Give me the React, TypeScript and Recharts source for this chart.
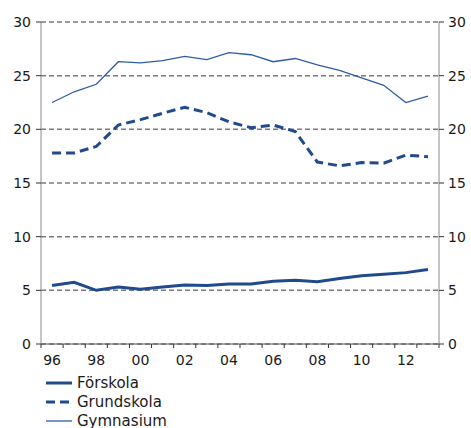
import React from 'react';
import { LineChart, Line, XAxis, YAxis, CartesianGrid } from 'recharts';

const years = [1996, 1997, 1998, 1999, 2000, 2001, 2002, 2003, 2004, 2005, 2006, 2007, 2008, 2009, 2010, 2011, 2012, 2013];
const forskola = [5.45, 5.75, 5.0, 5.3, 5.1, 5.3, 5.5, 5.45, 5.6, 5.6, 5.85, 5.95, 5.8, 6.1, 6.35, 6.5, 6.65, 6.95];
const grundskola = [17.8, 17.8, 18.4, 20.4, 20.9, 21.5, 22.05, 21.55, 20.7, 20.15, 20.4, 19.8, 16.95, 16.6, 16.9, 16.85, 17.6, 17.45];
const gymnasium = [22.5, 23.5, 24.2, 26.3, 26.2, 26.4, 26.8, 26.5, 27.15, 26.95, 26.3, 26.6, 26.0, 25.5, 24.8, 24.1, 22.5, 23.1];

const yTicks = [0, 5, 10, 15, 20, 25, 30];
const labelYears = [1996, 1998, 2000, 2002, 2004, 2006, 2008, 2010, 2012];
const boundaryTicks = [...years.map((y) => y - 0.5), years[years.length - 1] + 0.5];
const xDomain = [boundaryTicks[0], boundaryTicks[boundaryTicks.length - 1]];

const data = years.map((year, i) => ({
    year,
    forskola: forskola[i],
    grundskola: grundskola[i],
    gymnasium: gymnasium[i],
}));

// Förskola sits on the right axis so that axis gets drawn (same 0-30 scale)
const series = [
    { key: 'forskola', name: 'Förskola', color: '#1f4b8e', width: 3, dash: undefined, yAxis: 'right' },
    { key: 'grundskola', name: 'Grundskola', color: '#1f4b8e', width: 3, dash: '9 5', yAxis: 'left' },
    { key: 'gymnasium', name: 'Gymnasium', color: '#2d5ca6', width: 1.3, dash: undefined, yAxis: 'left' },
];

const font = { fontFamily: '"DejaVu Sans", Verdana, sans-serif', fontSize: 14, fill: '#1a1a1a' };
const axisColor = '#8a8a8a';

export default function App() {
    return (
        <div style={{ position: 'absolute', left: 0, top: 0, width: 471, height: 428, background: '#fff' }}>
            <LineChart width={471} height={372} data={data} margin={{ top: 22, right: 0, bottom: 0, left: 0 }}>
                <CartesianGrid yAxisId="left" xAxisId="bounds" vertical={false} stroke="#7a7a7a" strokeWidth={1.5} strokeDasharray="5 3" />
                <XAxis
                    xAxisId="bounds"
                    dataKey="year"
                    type="number"
                    domain={xDomain}
                    ticks={boundaryTicks}
                    interval={0}
                    tickFormatter={() => ''}
                    tickSize={4}
                    height={4}
                    stroke="#555"
                    tickLine={{ stroke: '#333' }}
                />
                <XAxis
                    xAxisId="labels"
                    dataKey="year"
                    type="number"
                    domain={xDomain}
                    ticks={labelYears}
                    interval={0}
                    axisLine={false}
                    tickLine={false}
                    tickSize={0}
                    tickMargin={7}
                    height={24}
                    tick={font}
                    tickFormatter={(v: number) => String(v).slice(2)}
                />
                <YAxis
                    yAxisId="left"
                    domain={[0, 30]}
                    ticks={yTicks}
                    interval={0}
                    width={41}
                    tickSize={5}
                    tickMargin={5}
                    stroke={axisColor}
                    tickLine={{ stroke: '#333' }}
                    tick={font}
                />
                <YAxis
                    yAxisId="right"
                    orientation="right"
                    domain={[0, 30]}
                    ticks={yTicks}
                    interval={0}
                    width={32}
                    tickSize={5}
                    tickMargin={4}
                    stroke={axisColor}
                    tickLine={{ stroke: '#333' }}
                    tick={{ ...font, textAnchor: 'start' }}
                />
                {series.map((s) => (
                    <Line
                        key={s.key}
                        xAxisId="bounds"
                        yAxisId={s.yAxis}
                        type="linear"
                        dataKey={s.key}
                        name={s.name}
                        stroke={s.color}
                        strokeWidth={s.width}
                        strokeDasharray={s.dash}
                        dot={false}
                        activeDot={false}
                        isAnimationActive={false}
                    />
                ))}
            </LineChart>
            <div style={{ position: 'absolute', left: 46, top: 373 }}>
                {series.map((s) => (
                    <div key={s.key} style={{ display: 'flex', alignItems: 'center', height: 19, fontFamily: font.fontFamily, fontSize: 15, color: '#1a1a1a' }}>
                        <svg width={26} height={10} style={{ marginRight: 5 }}>
                            <line x1={0} y1={5} x2={26} y2={5} stroke={s.color} strokeWidth={s.width} strokeDasharray={s.dash} />
                        </svg>
                        <span>{s.name}</span>
                    </div>
                ))}
            </div>
        </div>
    );
}
